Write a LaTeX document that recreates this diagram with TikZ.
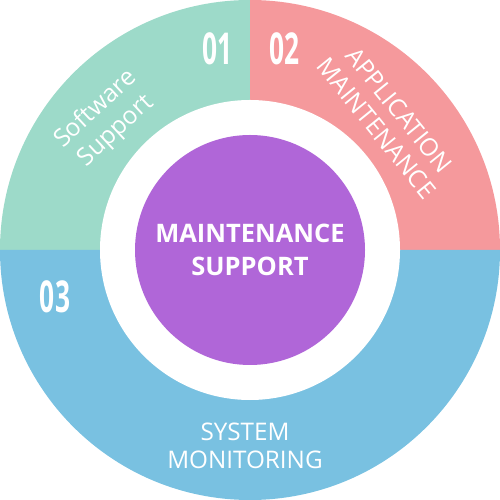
\documentclass[tikz,border=0pt]{standalone}
\usepackage{fontspec}
\setmainfont{Open Sans}
\usetikzlibrary{positioning}
\definecolor{supgreen}{RGB}{157,218,201}
\definecolor{suppink}{RGB}{245,153,156}
\definecolor{supblue}{RGB}{121,193,225}
\definecolor{suppurple}{RGB}{176,102,216}

\begin{document}
\begin{tikzpicture}[
  hub/.style={circle, fill=suppurple, minimum size=4.6cm, inner sep=0pt,
              text=white, align=center, font=\fontsize{14.5}{18.8}\selectfont\bfseries},
  num/.style={text=white, xscale=0.6, inner sep=0pt, font=\fontsize{25}{25}\selectfont\bfseries},
  label/.style={text=white, align=center, inner sep=0pt, font=\fontsize{14}{16.5}\selectfont}
]
  \useasboundingbox (-5,-5) rectangle (5,5);
  % ring quarters
  \fill[supgreen] (0,0) -- (180:5) arc[start angle=180, end angle=90, radius=5] -- cycle;
  \fill[suppink] (0,0) -- (90:5) arc[start angle=90, end angle=0, radius=5] -- cycle;
  \fill[supblue] (0,0) -- (0:5) arc[start angle=0, end angle=-180, radius=5] -- cycle;
  \fill[white] (0,0) circle (3);
  % centre
  \node[hub] (core) at (0,0) {MAINTENANCE\\SUPPORT};
  % numbers
  \node[num] (n1) at (-0.65,4.02) {01};
  \node[num] (n2) at (0.69,4.02) {02};
  \node[num] (n3) at (-3.9,-0.94) {03};
  % labels
  \node[label, rotate=43, font=\fontsize{14}{17}\selectfont] (soft) at (-2.88,2.6) {Software\\Support};
  \node[label, rotate=-51] (app) at (2.76,2.62) {APPLICATION\\MAINTENANCE};
  \node[label, font=\fontsize{13.8}{16}\selectfont] (sys) at (-0.1,-3.92) {SYSTEM\\MONITORING};
\end{tikzpicture}
\end{document}
